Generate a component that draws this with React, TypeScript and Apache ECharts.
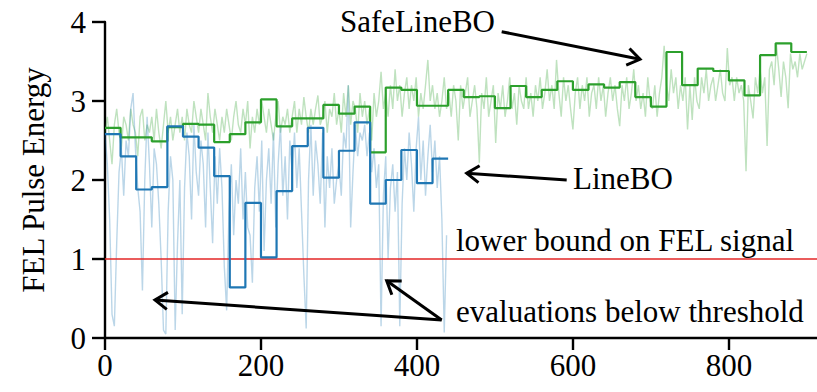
import React, { useEffect, useRef } from "react";
import * as echarts from "echarts";

// ---- data ----
const xTickValues = [0, 200, 400, 600, 800];
const xAxisMax = 913;
const yAxisMax = 4;
const thresholdValue = 1;
const stepLength = 20; // evaluations per step of the best-estimate curves
const evalSpacing = 3; // x spacing between plotted evaluations

// SafeLineBO best estimate, one value per block of 20 evaluations (0..900)
const safeLineSteps = [
  2.66, 2.54, 2.54, 2.49, 2.67, 2.71, 2.7, 2.48, 2.58, 2.73,
  3.02, 2.68, 2.78, 2.78, 2.95, 2.84, 2.93, 2.35, 3.17, 3.14,
  2.94, 2.94, 3.14, 3.05, 3.06, 2.91, 3.19, 3.05, 3.14, 3.25,
  3.14, 3.21, 3.17, 3.24, 3.05, 2.93, 3.62, 3.2, 3.41, 3.38,
  3.26, 3.07, 3.58, 3.73, 3.62,
];

// LineBO best estimate, one value per block of 20 evaluations (0..440)
const lineBOSteps = [
  2.58, 2.3, 1.88, 1.91, 2.68, 2.55, 2.41, 2.05, 0.64, 1.71,
  1.02, 1.86, 2.43, 2.66, 2.03, 2.37, 2.73, 1.7, 2.0, 2.38,
  1.96, 2.27,
];

// SafeLineBO evaluations (x = 0, 3, 6, ... 900)
const safeLineEvals = [
  2.6, 2.8, 2.5, 2.2, 2.7, 2.9, 2.6, 2.4, 2.8, 2.7,
  2.5, 2.9, 2.7, 2.6, 2.3, 2.8, 2.9, 2.5, 2.7, 2.6,
  2.8, 2.5, 2.9, 2.6, 2.4, 2.7, 3.0, 2.6, 2.8, 2.5,
  2.7, 2.9, 2.6, 2.8, 2.5, 2.9, 2.7, 2.6, 3.0, 2.8,
  2.6, 2.9, 2.7, 2.5, 3.1, 2.8, 2.6, 2.9, 2.7, 2.5,
  2.8, 2.6, 2.9, 2.7, 2.5, 2.8, 3.0, 2.7, 2.6, 2.9,
  2.7, 3.0, 2.4, 2.8, 2.6, 2.9, 2.7, 3.0, 2.8, 2.6,
  2.9, 2.7, 2.5, 2.8, 3.0, 2.6, 2.8, 2.7, 2.9, 2.6,
  2.8, 3.0, 2.6, 2.9, 2.7, 3.05, 2.8, 2.6, 2.9, 2.7,
  2.9, 3.07, 2.7, 2.8, 3.0, 2.6, 2.9, 2.8, 3.1, 2.7,
  2.9, 2.6, 3.1, 2.8, 3.2, 2.7, 3.0, 2.9, 2.6, 3.1,
  2.8, 3.0, 2.7, 2.9, 2.5, 3.1, 2.8, 3.0, 3.37, 2.9,
  3.1, 2.8, 3.2, 2.9, 3.4, 3.0, 3.2, 2.8, 3.1, 3.3,
  2.9, 3.2, 3.0, 3.3, 2.8, 3.1, 2.9, 3.2, 3.52, 3.0,
  3.2, 2.9, 3.1, 2.8, 3.0, 3.3, 2.9, 3.1, 2.8, 3.2,
  3.0, 2.5, 3.2, 2.9, 3.1, 3.3, 2.8, 3.0, 3.2, 2.9,
  2.22, 3.1, 2.9, 3.3, 2.8, 3.0, 3.2, 2.47, 3.1, 2.9,
  3.2, 2.8, 3.0, 3.3, 2.9, 3.1, 2.7, 3.2, 3.0, 2.9,
  3.3, 2.9, 3.1, 2.8, 3.2, 3.0, 3.3, 2.9, 3.1, 3.4,
  3.0, 3.2, 2.9, 3.52, 3.1, 2.8, 3.3, 3.0, 3.2, 2.9,
  2.64, 3.1, 3.3, 2.9, 3.2, 3.0, 3.3, 2.8, 3.1, 3.2,
  2.9, 3.3, 3.0, 3.2, 2.8, 3.1, 3.3, 3.0, 3.2, 2.9,
  2.68, 3.2, 3.0, 3.3, 2.9, 3.1, 3.4, 3.0, 3.2, 2.9,
  3.1, 2.8, 3.3, 3.0, 2.9, 3.2, 2.8, 3.1, 3.3, 3.7,
  3.2, 3.0, 3.4, 3.1, 3.3, 2.9, 3.2, 3.0, 3.3, 2.64,
  3.2, 2.76, 3.3, 3.0, 2.9, 3.3, 3.1, 3.4, 3.0, 3.2,
  3.3, 3.0, 3.2, 3.4, 3.1, 3.0, 3.67, 3.2, 3.3, 3.0,
  3.3, 3.1, 3.2, 3.0, 2.11, 3.2, 3.0, 2.78, 3.3, 3.1,
  3.4, 3.1, 3.3, 2.43, 3.4, 3.5, 3.2, 3.71, 3.4, 3.05,
  3.5, 3.3, 2.91, 3.6, 3.4, 3.5, 3.3, 3.6, 3.4, 3.5,
  3.6,
];

// LineBO evaluations (x = 0, 3, 6, ... 438)
const lineBOEvals = [
  2.6, 2.2, 1.5, 0.3, 0.15, 1.2, 2.1, 2.4, 1.8, 2.5,
  2.3, 2.9, 3.1, 2.4, 1.9, 1.6, 0.6, 2.0, 2.8, 2.2,
  1.4, 2.4, 2.2, 1.7, 1.0, 0.1, 0.05, 1.6, 2.3, 2.0,
  0.1, 1.2, 2.0, 0.3, 1.9, 2.6, 2.3, 1.5, 2.7, 2.1,
  1.8, 2.5, 2.2, 1.4, 2.6, 1.9, 1.2, 2.3, 1.7, 2.4,
  1.9, 0.9, 0.35, 1.6, 2.2, 1.3, 2.0, 1.7, 2.4, 1.5,
  2.1, 1.4, 1.3, 0.7, 1.9, 2.3, 1.6, 2.5, 1.1, 2.0,
  2.4, 1.7, 2.6, 1.4, 2.2, 2.7, 1.8, 2.3, 1.5, 2.5,
  2.1, 2.6, 1.9, 2.4, 1.6, 0.8, 0.12, 2.0, 2.7, 1.8,
  2.5, 2.2, 1.7, 2.6, 1.4, 2.3, 1.9, 2.4, 1.7, 2.0,
  2.2, 1.8, 2.6, 2.4, 3.2, 1.4, 2.1, 2.7, 2.3, 2.6,
  2.5, 2.7, 2.3, 2.6, 2.1, 2.4, 1.9, 2.2, 0.15, 1.8,
  2.3, 1.0, 1.9, 2.2, 1.6, 2.1, 0.15, 1.7, 2.4, 2.0,
  2.6, 2.2, 1.6, 2.4, 2.8, 2.0, 2.5, 1.8, 2.3, 2.7,
  2.1, 2.5, 1.9, 2.3, 1.5, 0.07, 1.3,
];

const FONT = '"Liberation Serif", "Times New Roman", Times, serif';
const FONT_SIZE = 31;
const GREEN = "#2ca02c";
const BLUE = "#1f77b4";

function stepData(values: number[]) {
  const pts = values.map((v, i) => [i * stepLength, v]);
  pts.push([values.length * stepLength, values[values.length - 1]]);
  return pts;
}

function evalData(values: number[]) {
  return values.map((v, i) => [i * evalSpacing, v]);
}

function arrow(x1: number, y1: number, x2: number, y2: number) {
  const len = 15;
  const ang = 0.6;
  const a = Math.atan2(y1 - y2, x1 - x2);
  const p1 = [x2 + len * Math.cos(a + ang), y2 + len * Math.sin(a + ang)];
  const p2 = [x2 + len * Math.cos(a - ang), y2 + len * Math.sin(a - ang)];
  return [
    {
      type: "line",
      silent: true,
      shape: { x1, y1, x2, y2 },
      style: { stroke: "#000", lineWidth: 3 },
      z: 100,
    },
    {
      type: "polyline",
      silent: true,
      shape: { points: [p1, [x2, y2], p2] },
      style: { stroke: "#000", lineWidth: 3, fill: null },
      z: 100,
    },
  ];
}

function label(text: string, x: number, y: number) {
  return {
    type: "text",
    silent: true,
    x,
    y,
    z: 100,
    style: {
      text,
      fill: "#000",
      fontSize: FONT_SIZE,
      fontFamily: FONT,
      align: "left",
      verticalAlign: "middle",
    },
  };
}

export default function App() {
  const ref = useRef<HTMLDivElement>(null);

  useEffect(() => {
    if (!ref.current) return;
    const chart = echarts.init(ref.current, undefined, { renderer: "svg" });
    const option: any = {
      animation: false,
      backgroundColor: "#fff",
      grid: {
        left: 105,
        right: 0,
        top: 22,
        bottom: 54,
        containLabel: false,
        outerBoundsMode: "none",
      },
      xAxis: {
        type: "value",
        min: 0,
        max: xAxisMax,
        splitLine: { show: false },
        axisLine: { show: true, onZero: false, lineStyle: { color: "#000", width: 2.4 } },
        axisTick: {
          show: true,
          length: 12,
          customValues: xTickValues,
          lineStyle: { color: "#000", width: 2.4 },
        },
        axisLabel: {
          customValues: xTickValues,
          color: "#000",
          fontSize: FONT_SIZE,
          fontFamily: FONT,
          margin: 12,
        },
      },
      yAxis: {
        type: "value",
        min: 0,
        max: yAxisMax,
        interval: 1,
        name: "FEL Pulse Energy",
        nameLocation: "middle",
        nameRotate: 90,
        nameGap: 56,
        nameTextStyle: { color: "#000", fontSize: FONT_SIZE, fontFamily: FONT },
        splitLine: { show: false },
        axisLine: { show: true, onZero: false, lineStyle: { color: "#000", width: 2.4 } },
        axisTick: { show: true, length: 13, lineStyle: { color: "#000", width: 2.4 } },
        axisLabel: { color: "#000", fontSize: FONT_SIZE, fontFamily: FONT, margin: 19 },
      },
      series: [
        {
          name: "SafeLineBO evaluations",
          type: "line",
          data: evalData(safeLineEvals),
          showSymbol: false,
          symbol: "none",
          silent: true,
          lineStyle: { color: GREEN, width: 1.4, opacity: 0.3 },
          z: 1,
        },
        {
          name: "LineBO evaluations",
          type: "line",
          data: evalData(lineBOEvals),
          showSymbol: false,
          symbol: "none",
          silent: true,
          lineStyle: { color: BLUE, width: 1.4, opacity: 0.3 },
          z: 2,
        },
        {
          name: "lower bound",
          type: "line",
          data: [
            [0, thresholdValue],
            [xAxisMax, thresholdValue],
          ],
          showSymbol: false,
          symbol: "none",
          silent: true,
          lineStyle: { color: "#e32626", width: 1.6 },
          z: 3,
        },
        {
          name: "SafeLineBO",
          type: "line",
          step: "end",
          data: stepData(safeLineSteps),
          showSymbol: false,
          symbol: "none",
          silent: true,
          lineStyle: { color: GREEN, width: 2.2 },
          z: 4,
        },
        {
          name: "LineBO",
          type: "line",
          step: "end",
          data: stepData(lineBOSteps),
          showSymbol: false,
          symbol: "none",
          silent: true,
          lineStyle: { color: BLUE, width: 2.2 },
          z: 5,
        },
      ],
      graphic: {
        elements: [
          label("SafeLineBO", 340, 21.7),
          label("LineBO", 573, 178),
          label("lower bound on FEL signal", 456, 240.7),
          label("evaluations below threshold", 456, 311.7),
          ...arrow(501.7, 31.7, 640, 59.3),
          ...arrow(566.7, 180, 466.7, 173.3),
          ...arrow(441.7, 320, 155, 300),
          ...arrow(441.7, 320, 386.7, 280.7),
        ],
      },
    };
    chart.setOption(option);
    return () => chart.dispose();
  }, []);

  return (
    <div
      ref={ref}
      style={{ position: "fixed", left: 0, top: 0, width: 817, height: 392, background: "#fff" }}
    />
  );
}
